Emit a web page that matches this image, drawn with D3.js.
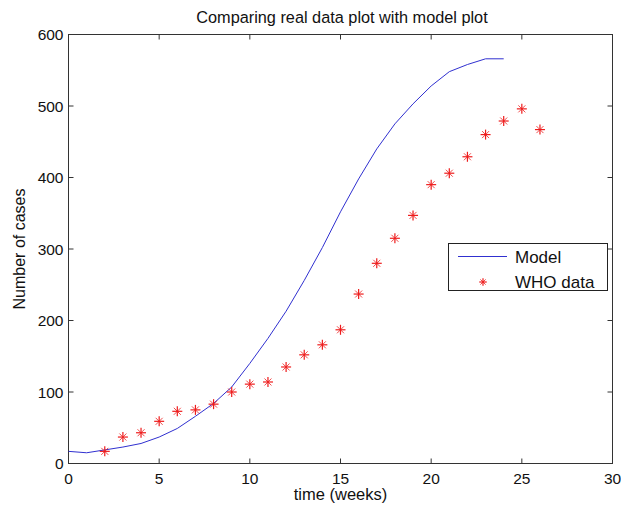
<!DOCTYPE html>
<html><head><meta charset="utf-8">
<script src="https://cdn.jsdelivr.net/npm/d3@7"></script>
<style>body{margin:0;background:#fff}svg{display:block}text{font-family:"Liberation Sans",Arial,sans-serif;fill:#111}</style>
</head><body><svg id="c" width="621" height="509"></svg>
<script>
const modelWeeks = [0,1,2,3,4,5,6,7,8,9,10,11,12,13,14,15,16,17,18,19,20,21,22,23,24];
const modelCases = [17,15,19,23,28,37,49,66,84,107,140,175,213,256,302,352,398,440,475,503,528,548,558,566,566];
const whoWeeks = [2,3,4,5,6,7,8,9,10,11,12,13,14,15,16,17,18,19,20,21,22,23,24,25,26];
const whoCases = [17,37,43,59,73,75,83,100,111,114,135,152,166,187,237,280,315,347,390,406,429,460,479,496,467];
const xTicks = [0,5,10,15,20,25,30];
const yTicks = [0,100,200,300,400,500,600];
const titleText = "Comparing real data plot with model plot";
const xLabel = "time (weeks)";
const yLabel = "Number of cases";
const legendLabels = ["Model","WHO data"];

const svg = d3.select("#c");
const L=68.5, R=612.5, T=34.5, B=463.5;
const x = d3.scaleLinear().domain([0,30]).range([L,R]);
const y = d3.scaleLinear().domain([0,600]).range([B,T]);
const axisColor = "#333";

const g = svg.append("g");
xTicks.forEach(t=>{
  g.append("line").attr("x1",x(t)).attr("x2",x(t)).attr("y1",B).attr("y2",B-5).attr("stroke",axisColor);
  g.append("line").attr("x1",x(t)).attr("x2",x(t)).attr("y1",T).attr("y2",T+5).attr("stroke",axisColor);
  g.append("text").attr("x",x(t)).attr("y",B+20).attr("text-anchor","middle").attr("font-size",15.5).text(t);
});
yTicks.forEach(t=>{
  g.append("line").attr("x1",L).attr("x2",L+5).attr("y1",y(t)).attr("y2",y(t)).attr("stroke",axisColor);
  g.append("line").attr("x1",R).attr("x2",R-5).attr("y1",y(t)).attr("y2",y(t)).attr("stroke",axisColor);
  g.append("text").attr("x",L-5).attr("y",y(t)+5.5).attr("text-anchor","end").attr("font-size",15.5).text(t);
});
g.append("rect").attr("x",L).attr("y",T).attr("width",R-L).attr("height",B-T).attr("fill","none").attr("stroke",axisColor).attr("stroke-width",1);

const line = d3.line().x((d,i)=>x(modelWeeks[i])).y(d=>y(d));
svg.append("path").datum(modelCases).attr("d",line).attr("fill","none").attr("stroke","#3030d0").attr("stroke-width",1);

function star(sel, cx, cy, k){
  const s=5*k, d=3.5*k;
  const gg = sel.append("g").attr("stroke","#ee1c1c").attr("stroke-width",1.2);
  gg.append("line").attr("x1",cx-s).attr("x2",cx+s).attr("y1",cy).attr("y2",cy);
  gg.append("line").attr("x1",cx).attr("x2",cx).attr("y1",cy-s).attr("y2",cy+s);
  gg.append("line").attr("x1",cx-d).attr("x2",cx+d).attr("y1",cy-d).attr("y2",cy+d).attr("stroke-width",0.8);
  gg.append("line").attr("x1",cx-d).attr("x2",cx+d).attr("y1",cy+d).attr("y2",cy-d).attr("stroke-width",0.8);
}
const pts = svg.append("g");
whoCases.forEach((v,i)=>star(pts, x(whoWeeks[i]), y(v), 1));

svg.append("text").attr("x",342).attr("y",23).attr("text-anchor","middle").attr("font-size",16.3).text(titleText);
svg.append("text").attr("x",(L+R)/2).attr("y",500).attr("text-anchor","middle").attr("font-size",16.5).text(xLabel);
svg.append("text").attr("transform",`translate(25,${(T+B)/2}) rotate(-90)`).attr("text-anchor","middle").attr("font-size",16).text(yLabel);

const lg = svg.append("g");
lg.append("rect").attr("x",448.5).attr("y",243.5).attr("width",159).attr("height",47).attr("fill","#fff").attr("stroke","#222");
lg.append("line").attr("x1",458).attr("x2",507).attr("y1",256.5).attr("y2",256.5).attr("stroke","#3030d0");
lg.append("text").attr("x",515).attr("y",263).attr("font-size",17).text(legendLabels[0]);
star(lg, 483, 282, 0.75);
lg.append("text").attr("x",515).attr("y",288).attr("font-size",17).text(legendLabels[1]);
</script></body></html>
